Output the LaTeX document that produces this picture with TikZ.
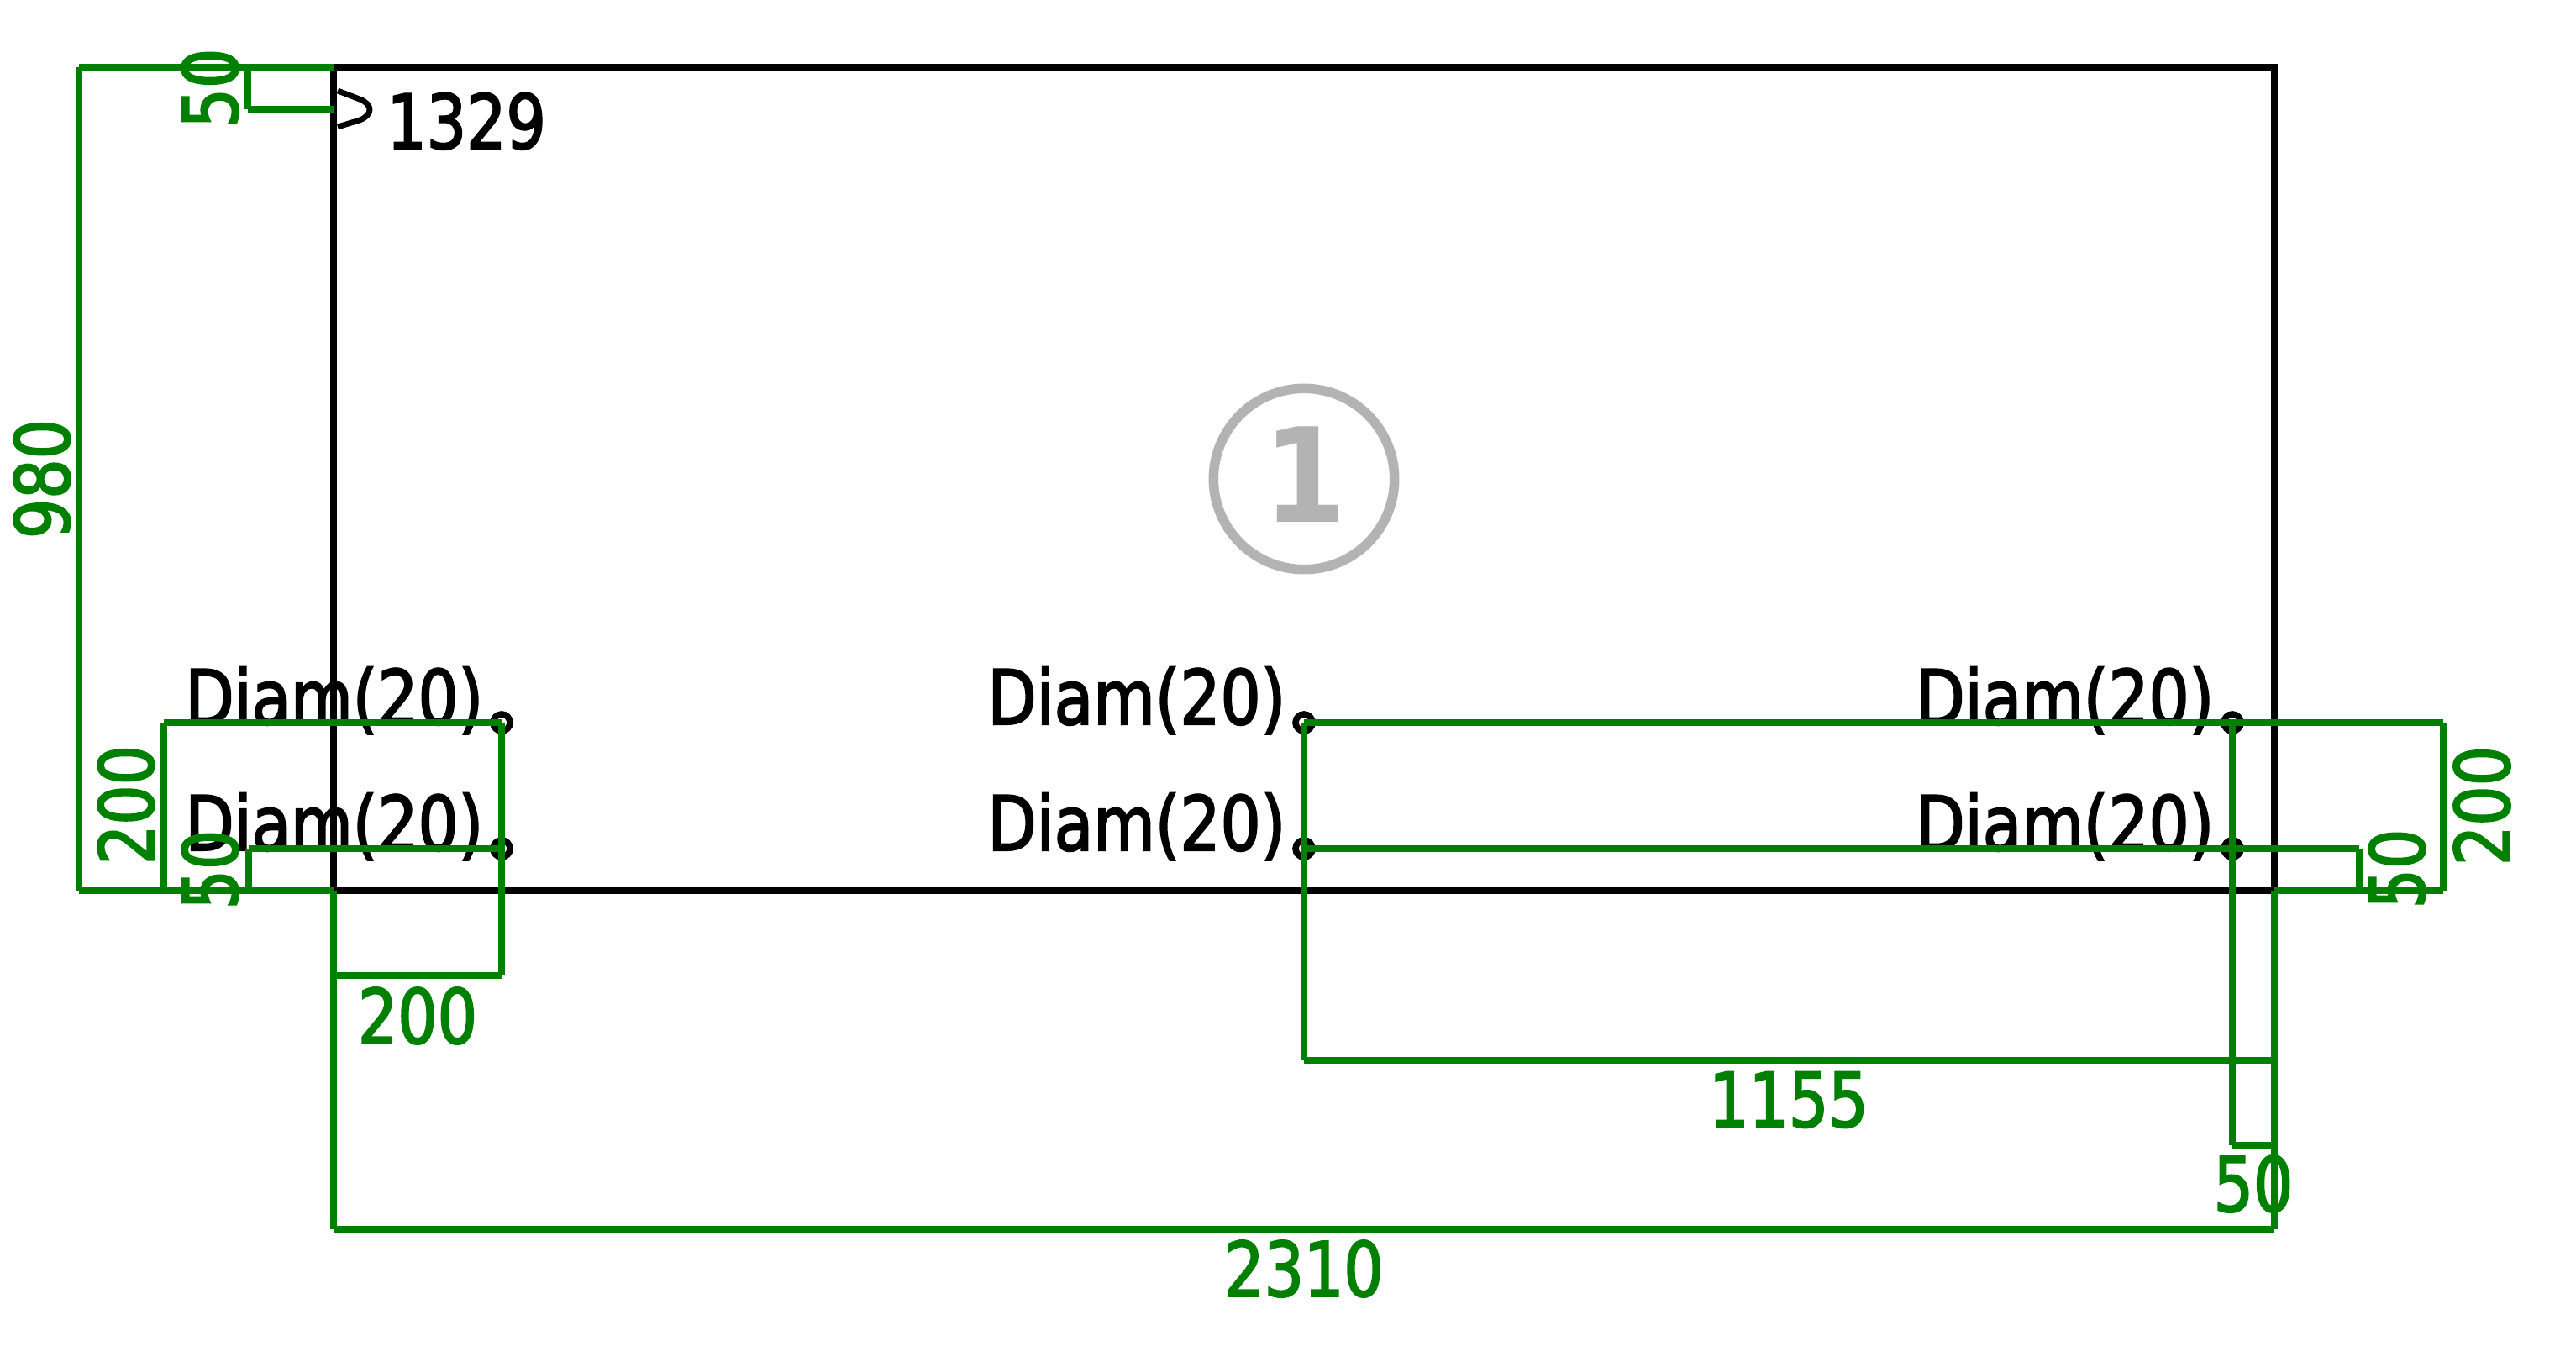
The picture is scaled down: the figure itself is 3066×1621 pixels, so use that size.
\documentclass[tikz,border=0pt]{standalone}
\usepackage{fontspec}
\newfontfamily\dimfont[FakeStretch=0.92,FakeBold=2.2]{DejaVu Sans Condensed}
\newfontfamily\diamfont[FakeStretch=0.935,FakeBold=2.2]{DejaVu Sans Condensed}
\newfontfamily\badgefont[FakeStretch=0.92]{DejaVu Sans Bold}
\definecolor{dimgreen}{HTML}{008000}
\definecolor{badgegray}{HTML}{B3B3B3}
\tikzset{
  x=0.5pt,y=-0.5pt,
  board/.style={draw=black,line width=3.8pt},
  hole/.style={draw=black,line width=3.8pt},
  dimline/.style={draw=dimgreen,line width=3.8pt,line cap=butt},
  blacklabel/.style={text=black,font=\dimfont\fontsize{45}{45}\selectfont,inner sep=0pt,anchor=base west},
  diamlabel/.style={blacklabel,font=\diamfont\fontsize{45}{45}\selectfont},
  dimh/.style={text=dimgreen,font=\dimfont\fontsize{45}{45}\selectfont,inner sep=0pt,anchor=center},
  dimv/.style={dimh,rotate=90},
}
\begin{document}
\begin{tikzpicture}
\useasboundingbox (0,0) rectangle (3066,1621);
% board
\draw[board] (397,80) rectangle (2707,1060);
% badge
\node[draw=badgegray,line width=5.75pt,circle,minimum size=107.7pt,inner sep=0pt] (badge) at (1552,570) {};
\node[text=badgegray,font=\badgefont\fontsize{78}{78}\selectfont,inner sep=0pt] (badgenum) at (1553,565) {1};
% marker and reference
\draw[black,line width=3.4pt] (402,108) -- (428,118) .. controls (444,124) and (444,137) .. (428,143) -- (402,151);
\node[blacklabel] (ref) at (460,177) {1329};
% hole labels
\node[diamlabel] (la) at (220,862) {Diam(20)};
\node[diamlabel] (lb) at (220,1012) {Diam(20)};
\node[diamlabel] (lc) at (1175,862) {Diam(20)};
\node[diamlabel] (ld) at (1175,1012) {Diam(20)};
\node[diamlabel] (le) at (2280,862) {Diam(20)};
\node[diamlabel] (lf) at (2280,1012) {Diam(20)};
% holes
\foreach \x in {597,1552,2657} \foreach \y in {860,1010} \draw[hole] (\x,\y) circle (10);
% dimensions, outer left
\draw[dimline] (397,80) -- (94,80) (94,80) -- (94,1060) (94,1060) -- (397,1060);
\draw[dimline] (397,80) -- (295,80) (295,80) -- (295,130) (295,130) -- (397,130);
\draw[dimline] (597,860) -- (195,860) (195,860) -- (195,1060) (195,1060) -- (397,1060);
\draw[dimline] (597,1010) -- (296,1010) (296,1010) -- (296,1060) (296,1060) -- (397,1060);
\draw[dimline] (397,1060) -- (397,1161) (397,1161) -- (597,1161) (597,1161) -- (597,860);
\draw[dimline] (397,1060) -- (397,1463) (397,1463) -- (2707,1463) (2707,1463) -- (2707,1060);
\draw[dimline] (1552,860) -- (1552,1262) (1552,1262) -- (2707,1262);
\draw[dimline] (2657,860) -- (2657,1363) (2657,1363) -- (2707,1363);
\draw[dimline] (1552,860) -- (2908,860) (2908,860) -- (2908,1060) (2908,1060) -- (2707,1060);
\draw[dimline] (1552,1010) -- (2808,1010) (2808,1010) -- (2808,1060) (2808,1060) -- (2707,1060);
% dimension texts
\node[dimv] (t980) at (50,570) {980};
\node[dimv] (t50a) at (250,105) {50};
\node[dimv] (t200a) at (150,958) {200};
\node[dimv] (t50b) at (250,1035) {50};
\node[dimh] (t200b) at (497,1209) {200};
\node[dimh] (t2310) at (1552,1510) {2310};
\node[dimh] (t1155) at (2129,1309) {1155};
\node[dimh] (t50c) at (2682,1409) {50};
\node[dimv] (t50d) at (2853,1034) {50};
\node[dimv] (t200c) at (2954,959) {200};
\end{tikzpicture}
\end{document}
